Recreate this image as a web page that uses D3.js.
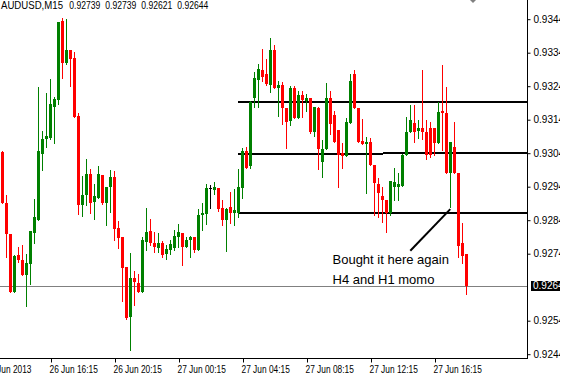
<!DOCTYPE html>
<html><head><meta charset="utf-8">
<script src="https://cdn.jsdelivr.net/npm/d3@7"></script>
<style>html,body{margin:0;padding:0;background:#fff;overflow:hidden}</style>
</head><body><svg id="c" width="571" height="387"></svg>
<script>
const symbol = "AUDUSD,M15";
const lastOHLC = ["0.92739", "0.92739", "0.92621", "0.92644"];
const opens = [0.93044,0.92892,0.92799,0.92627,0.92736,0.92721,0.92676,0.92709,0.92801,0.92841,
0.93038,0.93082,0.93084,0.93179,0.93199,0.93435,0.93310,0.93348,0.93324,0.93151,
0.92885,0.92915,0.92978,0.92893,0.92907,0.92975,0.92892,0.92939,0.92969,0.92817,
0.92790,0.92700,0.92551,0.92667,0.92653,0.92627,0.92775,0.92808,0.92772,0.92756,
0.92771,0.92738,0.92751,0.92756,0.92789,0.92802,0.92761,0.92781,0.92790,0.92751,
0.92856,0.92859,0.92936,0.92931,0.92936,0.92876,0.92841,0.92879,0.92862,0.92862,
0.92936,0.93047,0.93002,0.93205,0.93259,0.93288,0.93276,0.93244,0.93348,0.93235,
0.93244,0.93175,0.93136,0.93235,0.93145,0.93214,0.93196,0.93205,0.93103,0.93176,
0.93015,0.93053,0.93205,0.93154,0.93109,0.93040,0.93033,0.93129,0.93276,0.93174,
0.93076,0.93067,0.93074,0.93005,0.92947,0.92912,0.92900,0.92861,0.92940,0.92940,
0.92942,0.93035,0.93104,0.93131,0.93106,0.93114,0.93104,0.93116,0.93114,0.93070,
0.93167,0.93159,0.92980,0.93059,0.92980,0.92773,0.92739];
const highs = [0.93047,0.92915,0.92799,0.92736,0.92760,0.92766,0.92739,0.92808,0.92903,0.93237,
0.93106,0.93221,0.93261,0.93207,0.93432,0.93444,0.93441,0.93348,0.93342,0.93160,
0.92972,0.93023,0.92993,0.92948,0.93002,0.92975,0.92939,0.92990,0.92987,0.92838,
0.92790,0.92700,0.92742,0.92688,0.92679,0.92790,0.92876,0.92844,0.92805,0.92801,
0.92778,0.92766,0.92781,0.92811,0.92829,0.92802,0.92790,0.92793,0.92790,0.92873,
0.92892,0.92948,0.92945,0.92954,0.92936,0.92900,0.92876,0.92924,0.92933,0.92993,
0.93056,0.93059,0.93196,0.93282,0.93306,0.93351,0.93321,0.93384,0.93363,0.93256,
0.93253,0.93175,0.93241,0.93241,0.93226,0.93226,0.93217,0.93205,0.93178,0.93178,
0.93079,0.93249,0.93226,0.93166,0.93109,0.93070,0.93144,0.93276,0.93288,0.93174,
0.93141,0.93089,0.93086,0.93005,0.92965,0.92940,0.92900,0.92957,0.92997,0.92980,
0.93037,0.93147,0.93184,0.93184,0.93139,0.93288,0.93139,0.93134,0.93114,0.93194,
0.93303,0.93239,0.93074,0.93134,0.92980,0.92831,0.92739];
const lows = [0.92890,0.92731,0.92627,0.92627,0.92716,0.92676,0.92585,0.92650,0.92771,0.92841,
0.92990,0.93059,0.93082,0.93071,0.93187,0.93264,0.93305,0.93241,0.93149,0.92859,
0.92853,0.92885,0.92862,0.92844,0.92907,0.92887,0.92826,0.92864,0.92781,0.92757,
0.92599,0.92545,0.92453,0.92587,0.92627,0.92627,0.92751,0.92766,0.92745,0.92746,
0.92731,0.92723,0.92739,0.92751,0.92761,0.92706,0.92761,0.92731,0.92744,0.92751,
0.92811,0.92829,0.92877,0.92918,0.92867,0.92826,0.92748,0.92832,0.92826,0.92849,
0.92906,0.92996,0.92996,0.93178,0.93178,0.93256,0.93244,0.93223,0.93235,0.93151,
0.93127,0.93056,0.93124,0.93145,0.93145,0.93148,0.93166,0.93100,0.93091,0.92993,
0.92970,0.93053,0.93097,0.93074,0.92940,0.92997,0.93033,0.93129,0.93176,0.93074,
0.93067,0.92920,0.93005,0.92856,0.92849,0.92834,0.92806,0.92856,0.92900,0.92900,
0.92942,0.93035,0.93104,0.93074,0.93086,0.93082,0.93023,0.93030,0.93035,0.93070,
0.93050,0.92980,0.92879,0.92980,0.92731,0.92711,0.92621];
const closes = [0.92890,0.92798,0.92627,0.92734,0.92721,0.92676,0.92711,0.92808,0.92849,0.93047,
0.93082,0.93091,0.93187,0.93202,0.93432,0.93310,0.93348,0.93321,0.93149,0.92885,
0.92915,0.92978,0.92890,0.92912,0.92978,0.92890,0.92939,0.92969,0.92814,0.92787,
0.92698,0.92548,0.92667,0.92656,0.92627,0.92781,0.92805,0.92772,0.92760,0.92771,
0.92736,0.92754,0.92769,0.92793,0.92805,0.92761,0.92781,0.92789,0.92751,0.92856,
0.92862,0.92936,0.92936,0.92939,0.92873,0.92841,0.92873,0.92862,0.92870,0.92939,
0.93047,0.92996,0.93193,0.93264,0.93291,0.93267,0.93247,0.93348,0.93235,0.93244,
0.93175,0.93133,0.93235,0.93145,0.93214,0.93199,0.93205,0.93103,0.93178,0.93053,
0.93053,0.93206,0.93127,0.93074,0.93035,0.93033,0.93134,0.93256,0.93176,0.93074,
0.93067,0.93074,0.93005,0.92950,0.92920,0.92900,0.92861,0.92957,0.92955,0.92947,
0.93035,0.93104,0.93139,0.93104,0.93114,0.93104,0.93035,0.93035,0.93070,0.93164,
0.93159,0.92980,0.93074,0.92980,0.92763,0.92733,0.92644];
const xTickIndex = [-4, 12, 28, 44, 60, 76, 92, 108];
const xTickLabels = ["26 Jun 2013","26 Jun 16:15","26 Jun 20:15","27 Jun 00:15","27 Jun 04:15","27 Jun 08:15","27 Jun 12:15","27 Jun 16:15"];
const yTickValues = [0.9344,0.9334,0.9324,0.9314,0.9304,0.9294,0.9284,0.9274,0.9254,0.9244];
const bidPrice = 0.92644;
const bidLabel = "0.9264";
const levelFrom = [59, 59, 95, 59];
const levelTo = [131, 95, 131, 131];
const levelPrice = [0.93193, 0.93038, 0.93041, 0.92862];
const arrowIdx = [101.95, 111.95];
const arrowPrice = [0.92749, 0.92873];
const noteLines = ["Bought it here again", "H4 and H1 momo"];
const noteIdx = [82.5, 82.5];
const notePrice = [0.92708, 0.92650];

const svg = d3.select("#c");
const FONT = "'Liberation Sans', Arial, sans-serif";
const x = d3.scaleLinear().domain([0, 116]).range([2.5, 466.5]);
const y = d3.scaleLinear().domain([0.9244, 0.9344]).range([354.2, 19.2]);
const RIGHT = 527, BOTTOM = 358;

const defs = svg.append("defs");
defs.append("clipPath").attr("id","plot").append("rect").attr("x",0).attr("y",0).attr("width",RIGHT).attr("height",BOTTOM);
defs.append("clipPath").attr("id","all").append("rect").attr("x",0).attr("y",0).attr("width",560).attr("height",387);

const root = svg.append("g").attr("clip-path","url(#all)");
const plot = root.append("g").attr("clip-path","url(#plot)").attr("shape-rendering","crispEdges");

// bid line
plot.append("rect").attr("x",0).attr("width",RIGHT).attr("y",Math.round(y(bidPrice))).attr("height",1).attr("fill","#808080");

// levels
plot.selectAll("rect.lvl").data(levelPrice).join("rect").attr("class","lvl")
  .attr("x",(d,i)=>Math.round(x(levelFrom[i])))
  .attr("width",(d,i)=>Math.min(RIGHT, Math.round(x(levelTo[i]))) - Math.round(x(levelFrom[i])))
  .attr("y",d=>Math.round(y(d))-1).attr("height",2).attr("fill","#000");

const idx = d3.range(opens.length);
const col = i => closes[i] > opens[i] ? "#008000" : (closes[i] < opens[i] ? "#ff0000" : "#000000");
plot.selectAll("rect.wick").data(idx).join("rect").attr("class","wick")
  .attr("x",i=>Math.round(x(i)-0.5)).attr("width",1)
  .attr("y",i=>Math.round(y(highs[i])))
  .attr("height",i=>Math.max(1, Math.round(y(lows[i])) - Math.round(y(highs[i])) + 1))
  .attr("fill",col);
plot.selectAll("rect.body").data(idx).join("rect").attr("class","body")
  .attr("x",i=>Math.round(x(i)-1.5)).attr("width",3)
  .attr("y",i=>Math.round(y(Math.max(opens[i],closes[i]))))
  .attr("height",i=>Math.max(1, Math.round(y(Math.min(opens[i],closes[i]))) - Math.round(y(Math.max(opens[i],closes[i])))))
  .attr("fill",col);

// arrow line
root.append("line").attr("x1",x(arrowIdx[0])).attr("y1",y(arrowPrice[0]))
  .attr("x2",x(arrowIdx[1])).attr("y2",y(arrowPrice[1])).attr("stroke","#000").attr("stroke-width",2);

// note text
root.selectAll("text.note").data(noteLines).join("text").attr("class","note")
  .attr("x",(d,i)=>x(noteIdx[i])).attr("y",(d,i)=>y(notePrice[i]))
  .attr("font-family",FONT).attr("font-size",13).attr("fill","#000").text(d=>d);

// frame
root.append("rect").attr("x",RIGHT).attr("y",0).attr("width",1).attr("height",BOTTOM+1).attr("fill","#000").attr("shape-rendering","crispEdges");
root.append("rect").attr("x",0).attr("y",BOTTOM).attr("width",RIGHT+1).attr("height",1).attr("fill","#000").attr("shape-rendering","crispEdges");

// y axis
const ya = root.append("g").attr("transform",`translate(${RIGHT+0.5},0)`)
  .call(d3.axisRight(y).tickValues(yTickValues).tickSize(3).tickPadding(3).tickFormat(d3.format(".4f")));
ya.select(".domain").remove();
ya.selectAll("line").attr("stroke","#000");
ya.selectAll("text").attr("font-family",FONT).attr("font-size",10).attr("fill","#000");

// x axis
const xa = root.append("g").attr("transform",`translate(0.5,${BOTTOM+0.5})`)
  .call(d3.axisBottom(x).tickValues(xTickIndex).tickSize(4).tickPadding(3).tickFormat((d,i)=>xTickLabels[i]));
xa.select(".domain").remove();
xa.selectAll("line").attr("stroke","#000");
xa.selectAll("text").attr("font-family",FONT).attr("font-size",10).attr("fill","#000")
  .attr("text-anchor","start").attr("x",-2);
xa.selectAll("text").each(function(){ const L=this.getComputedTextLength(); d3.select(this).attr("textLength",L*0.835).attr("lengthAdjust","spacingAndGlyphs"); });

// bid label
const yb = y(bidPrice);
root.append("rect").attr("x",531).attr("y",Math.round(yb)-5).attr("width",40).attr("height",10).attr("fill","#000").attr("shape-rendering","crispEdges");
root.append("text").attr("x",533).attr("y",yb+3.6).attr("font-family",FONT).attr("font-size",10).attr("fill","#fff").text(bidLabel);

// shift marker
root.append("path").attr("d","M470,0L476,0L473,3Z").attr("fill","#808080");

// title
root.append("text").attr("x",1).attr("y",9).attr("font-family",FONT).attr("font-size",10).attr("fill","#000")
  .attr("textLength",62).attr("lengthAdjust","spacingAndGlyphs").text(symbol);
root.selectAll("text.ohlc").data(lastOHLC).join("text").attr("class","ohlc")
  .attr("x",(d,i)=>69.3+36*i).attr("y",9).attr("font-family",FONT).attr("font-size",10).attr("fill","#000")
  .attr("textLength",31).attr("lengthAdjust","spacingAndGlyphs").text(d=>d);
</script></body></html>
